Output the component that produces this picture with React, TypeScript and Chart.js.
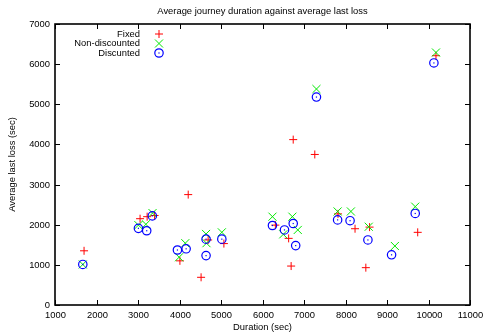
import React, { useEffect, useRef } from "react";
import { Chart, registerables } from "chart.js";

Chart.register(...registerables);

const chartTitle = "Average journey duration against average last loss";
const xAxisTitle = "Duration (sec)";
const yAxisTitle = "Average last loss (sec)";
const seriesLabels = ["Fixed", "Non-discounted", "Discunted"];

const xTicks = [1000, 2000, 3000, 4000, 5000, 6000, 7000, 8000, 9000, 10000, 11000];
const yTicks = [0, 1000, 2000, 3000, 4000, 5000, 6000, 7000];

const fixedDuration = [1700, 3050, 3220, 3400, 4010, 4210, 4520, 4690, 5070, 6310, 6630, 6690, 6740, 7260, 7820, 8230, 8490, 8580, 9740, 10180];
const fixedLoss = [1350, 2150, 2200, 2230, 1100, 2750, 690, 1620, 1530, 1990, 1660, 970, 4120, 3750, 2270, 1900, 930, 1940, 1810, 6210];

const nonDiscDuration = [1670, 3010, 3190, 3350, 3990, 4140, 4640, 4650, 5020, 6240, 6500, 6720, 6850, 7300, 7810, 8130, 8560, 9190, 9680, 10180];
const nonDiscLoss = [1010, 1990, 2010, 2290, 1190, 1540, 1770, 1540, 1810, 2200, 1760, 2200, 1870, 5380, 2330, 2330, 1950, 1470, 2450, 6290];

const discDuration = [1670, 3010, 3210, 3345, 3950, 4160, 4640, 4640, 5020, 6240, 6530, 6740, 6800, 7300, 7810, 8110, 8540, 9110, 9680, 10130];
const discLoss = [1010, 1910, 1850, 2220, 1370, 1400, 1640, 1230, 1640, 1980, 1870, 2030, 1480, 5180, 2120, 2100, 1620, 1250, 2280, 6030];

const RED = "#ff0000";
const GREEN = "#00e800";
const BLUE = "#0000ff";
const FONT = '9.4px "Liberation Sans", Arial, Helvetica, sans-serif';

function zip(xs: number[], ys: number[]) {
  return xs.map((x, i) => ({ x, y: ys[i] }));
}

export default function App() {
  const ref = useRef<HTMLCanvasElement | null>(null);

  useEffect(() => {
    if (!ref.current) return;

    const framePlugin = {
      id: "gnuplotFrame",
      afterDatasetsDraw(chart: any) {
        const ctx = chart.ctx;
        const meta = chart.getDatasetMeta(2);
        ctx.save();
        ctx.fillStyle = BLUE;
        meta.data.forEach((el: any) => {
          ctx.fillRect(el.x - 0.6, el.y - 0.6, 1.2, 1.2);
        });
        ctx.restore();
      },
      afterDraw(chart: any) {
        const { ctx, chartArea } = chart;
        const { left, right, top, bottom } = chartArea;
        const xs = chart.scales.x;
        const ys = chart.scales.y;
        ctx.save();
        ctx.strokeStyle = "#000";
        ctx.lineWidth = 1.6;
        ctx.strokeRect(left, top, right - left, bottom - top);
        ctx.lineWidth = 1;
        ctx.fillStyle = "#000";
        ctx.font = FONT;
        const tl = 5;
        ctx.textAlign = "center";
        ctx.textBaseline = "top";
        xTicks.forEach((v) => {
          const px = Math.round(xs.getPixelForValue(v)) + 0.5;
          ctx.beginPath();
          ctx.moveTo(px, bottom);
          ctx.lineTo(px, bottom - tl);
          ctx.moveTo(px, top);
          ctx.lineTo(px, top + tl);
          ctx.stroke();
          ctx.fillText(String(v), px, bottom + 6);
        });
        ctx.textAlign = "right";
        ctx.textBaseline = "middle";
        yTicks.forEach((v) => {
          const py = Math.round(ys.getPixelForValue(v)) + 0.5;
          ctx.beginPath();
          ctx.moveTo(left, py);
          ctx.lineTo(left + tl, py);
          ctx.moveTo(right, py);
          ctx.lineTo(right - tl, py);
          ctx.stroke();
          ctx.fillText(String(v), left - 5, py);
        });
        // axis titles
        ctx.textAlign = "center";
        ctx.textBaseline = "middle";
        ctx.fillText(xAxisTitle, (left + right) / 2, bottom + 22);
        ctx.fillText(chartTitle, (left + right) / 2, 11);
        ctx.save();
        ctx.translate(12, (top + bottom) / 2);
        ctx.rotate(-Math.PI / 2);
        ctx.fillText(yAxisTitle, 0, 0);
        ctx.restore();
        // legend
        const lx = left + 85;
        const sx = left + 104;
        chart.data.datasets.forEach((ds: any, i: number) => {
          const ly = top + 10 + i * 9.5;
          ctx.fillStyle = "#000";
          ctx.textAlign = "right";
          ctx.fillText(ds.label, lx, ly);
          ctx.lineWidth = 1;
          if (i === 0) {
            ctx.strokeStyle = RED;
            ctx.beginPath();
            ctx.moveTo(sx - 4, ly);
            ctx.lineTo(sx + 4, ly);
            ctx.moveTo(sx, ly - 4);
            ctx.lineTo(sx, ly + 4);
            ctx.stroke();
          } else if (i === 1) {
            ctx.strokeStyle = GREEN;
            ctx.beginPath();
            ctx.moveTo(sx - 4, ly - 4);
            ctx.lineTo(sx + 4, ly + 4);
            ctx.moveTo(sx + 4, ly - 4);
            ctx.lineTo(sx - 4, ly + 4);
            ctx.stroke();
          } else {
            ctx.strokeStyle = BLUE;
            ctx.lineWidth = 1.2;
            ctx.beginPath();
            ctx.arc(sx, ly, 4.2, 0, Math.PI * 2);
            ctx.stroke();
            ctx.fillStyle = BLUE;
            ctx.fillRect(sx - 0.6, ly - 0.6, 1.2, 1.2);
          }
        });
        ctx.restore();
      },
    };

    const chart = new Chart(ref.current, {
      type: "scatter",
      data: {
        datasets: [
          {
            label: seriesLabels[0],
            data: zip(fixedDuration, fixedLoss),
            pointStyle: "cross",
            pointRadius: 4,
            borderColor: RED,
            backgroundColor: RED,
            borderWidth: 1,
            order: 2,
          },
          {
            label: seriesLabels[1],
            data: zip(nonDiscDuration, nonDiscLoss),
            pointStyle: "crossRot",
            pointRadius: 5.7,
            borderColor: GREEN,
            backgroundColor: GREEN,
            borderWidth: 1,
            order: 1,
          },
          {
            label: seriesLabels[2],
            data: zip(discDuration, discLoss),
            pointStyle: "circle",
            pointRadius: 4.2,
            borderColor: BLUE,
            backgroundColor: "rgba(0,0,0,0)",
            borderWidth: 1.2,
            order: 0,
          },
        ],
      },
      options: {
        responsive: false,
        animation: false,
        layout: { padding: { left: 55, right: 13, top: 24, bottom: 30 } },
        plugins: {
          legend: { display: false },
          title: { display: false },
          tooltip: { enabled: false },
        },
        scales: {
          x: { type: "linear", min: 1000, max: 11000, display: false },
          y: { type: "linear", min: 0, max: 7000, display: false },
        },
      },
      plugins: [framePlugin],
    });
    return () => chart.destroy();
  }, []);

  return (
    <div style={{ position: "fixed", left: 0, top: 0, width: 483, height: 335, background: "#fff" }}>
      <canvas ref={ref} width={483} height={335} style={{ width: 483, height: 335, display: "block" }} />
    </div>
  );
}
